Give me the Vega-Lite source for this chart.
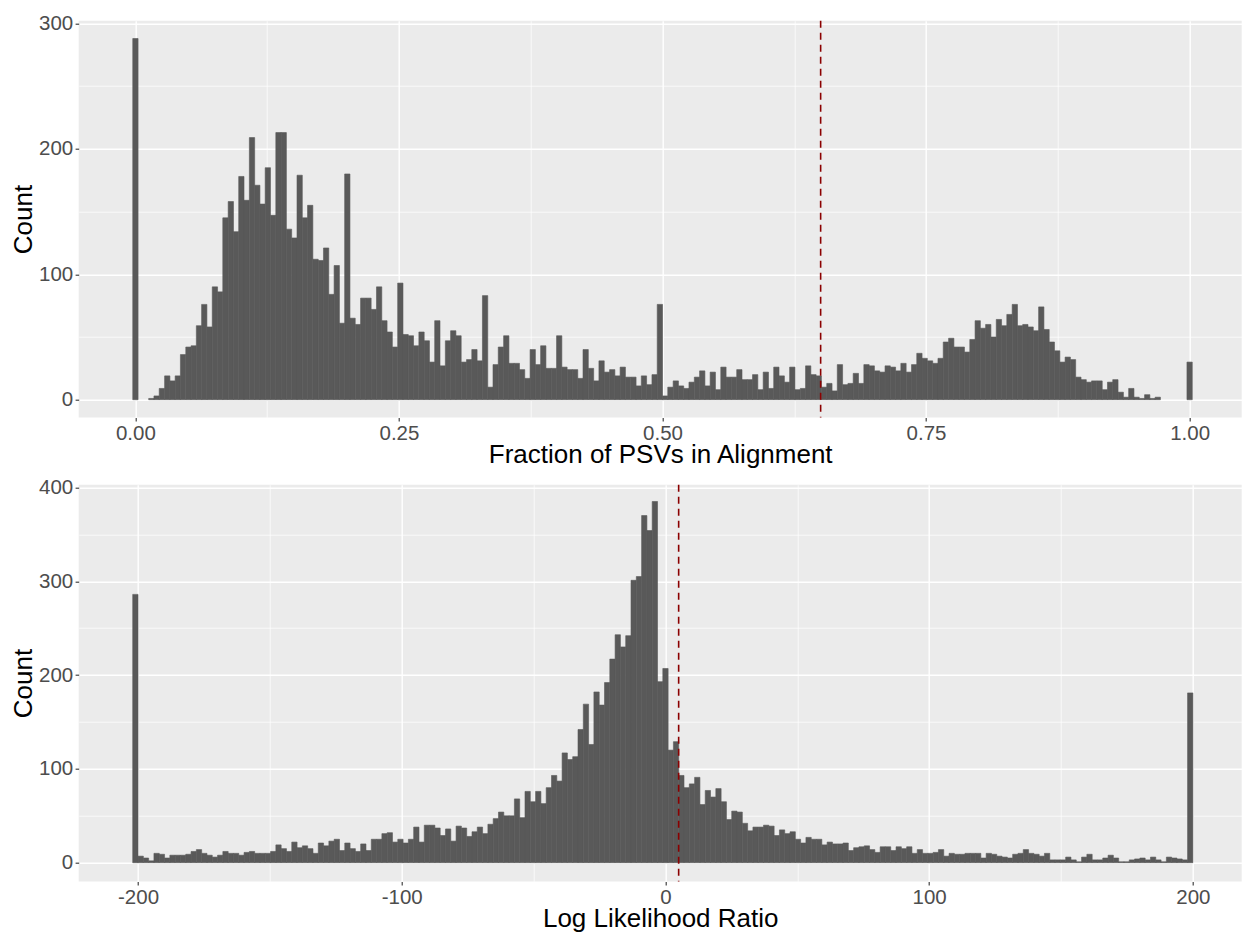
{
  "$schema": "https://vega.github.io/schema/vega-lite/v6.json",
  "background": "white",
  "padding": {"left": 9.7, "top": 12.7, "right": 0, "bottom": 0},
  "spacing": 67,
  "bounds": "flush",
  "config": {
    "font": "Liberation Sans",
    "view": {"fill": "#EBEBEB", "stroke": null},
    "axis": {
      "domain": false,
      "grid": true,
      "gridColor": "#FFFFFF",
      "tickColor": "#333333",
      "tickSize": 3.6,
      "tickWidth": 1.1,
      "labelColor": "#4D4D4D",
      "labelFont": "Liberation Sans",
      "labelFontSize": 20.5,
      "labelPadding": 2.4,
      "labelFlush": false,
      "labelOverlap": false,
      "titleFont": "Liberation Sans",
      "titleFontSize": 26,
      "titleFontWeight": "normal",
      "titleColor": "#000000"
    },
    "axisX": {"titlePadding": -2.5},
    "axisY": {"titlePadding": 2}
  },
  "datasets": {
    "top": [
      {"x":0,"n":288},{"x":0.0151,"n":1},{"x":0.0201,"n":3},{"x":0.0251,"n":9},{"x":0.0302,"n":19},{"x":0.0352,"n":15},{"x":0.0402,"n":19},{"x":0.0452,"n":36},{"x":0.0503,"n":42},{"x":0.0553,"n":43},
      {"x":0.0603,"n":59},{"x":0.0653,"n":76},{"x":0.0704,"n":58},{"x":0.0754,"n":90},{"x":0.0804,"n":86},{"x":0.0854,"n":145},{"x":0.0905,"n":158},{"x":0.0955,"n":134},{"x":0.1005,"n":178},{"x":0.1055,"n":159},
      {"x":0.1106,"n":209},{"x":0.1156,"n":171},{"x":0.1206,"n":156},{"x":0.1256,"n":185},{"x":0.1307,"n":147},{"x":0.1357,"n":213},{"x":0.1407,"n":213},{"x":0.1457,"n":136},{"x":0.1508,"n":129},{"x":0.1558,"n":179},
      {"x":0.1608,"n":145},{"x":0.1658,"n":155},{"x":0.1709,"n":112},{"x":0.1759,"n":111},{"x":0.1809,"n":121},{"x":0.1859,"n":84},{"x":0.191,"n":107},{"x":0.196,"n":61},{"x":0.201,"n":180},{"x":0.206,"n":65},
      {"x":0.2111,"n":60},{"x":0.2161,"n":81},{"x":0.2211,"n":81},{"x":0.2261,"n":72},{"x":0.2312,"n":90},{"x":0.2362,"n":63},{"x":0.2412,"n":54},{"x":0.2462,"n":42},{"x":0.2513,"n":93},{"x":0.2563,"n":52},
      {"x":0.2613,"n":51},{"x":0.2663,"n":43},{"x":0.2714,"n":54},{"x":0.2764,"n":47},{"x":0.2814,"n":30},{"x":0.2864,"n":63},{"x":0.2915,"n":27},{"x":0.2965,"n":47},{"x":0.3015,"n":55},{"x":0.3065,"n":51},
      {"x":0.3116,"n":30},{"x":0.3166,"n":32},{"x":0.3216,"n":40},{"x":0.3266,"n":31},{"x":0.3317,"n":83},{"x":0.3367,"n":10},{"x":0.3417,"n":28},{"x":0.3467,"n":42},{"x":0.3518,"n":51},{"x":0.3568,"n":29},
      {"x":0.3618,"n":29},{"x":0.3668,"n":24},{"x":0.3719,"n":17},{"x":0.3769,"n":40},{"x":0.3819,"n":28},{"x":0.3869,"n":43},{"x":0.392,"n":25},{"x":0.397,"n":25},{"x":0.402,"n":51},{"x":0.407,"n":26},
      {"x":0.4121,"n":24},{"x":0.4171,"n":24},{"x":0.4221,"n":17},{"x":0.4271,"n":40},{"x":0.4322,"n":25},{"x":0.4372,"n":15},{"x":0.4422,"n":31},{"x":0.4472,"n":22},{"x":0.4523,"n":24},{"x":0.4573,"n":19},
      {"x":0.4623,"n":26},{"x":0.4673,"n":18},{"x":0.4724,"n":18},{"x":0.4774,"n":11},{"x":0.4824,"n":19},{"x":0.4874,"n":12},{"x":0.4925,"n":20},{"x":0.4975,"n":76},{"x":0.5025,"n":3},{"x":0.5075,"n":10},
      {"x":0.5126,"n":15},{"x":0.5176,"n":11},{"x":0.5226,"n":9},{"x":0.5276,"n":14},{"x":0.5327,"n":18},{"x":0.5377,"n":23},{"x":0.5427,"n":11},{"x":0.5477,"n":22},{"x":0.5528,"n":8},{"x":0.5578,"n":26},
      {"x":0.5628,"n":18},{"x":0.5678,"n":18},{"x":0.5729,"n":24},{"x":0.5779,"n":16},{"x":0.5829,"n":16},{"x":0.5879,"n":20},{"x":0.593,"n":8},{"x":0.598,"n":22},{"x":0.603,"n":9},{"x":0.608,"n":26},
      {"x":0.6131,"n":19},{"x":0.6181,"n":14},{"x":0.6231,"n":26},{"x":0.6281,"n":8},{"x":0.6332,"n":9},{"x":0.6382,"n":27},{"x":0.6432,"n":20},{"x":0.6482,"n":19},{"x":0.6533,"n":10},{"x":0.6583,"n":13},
      {"x":0.6633,"n":7},{"x":0.6683,"n":28},{"x":0.6734,"n":12},{"x":0.6784,"n":13},{"x":0.6834,"n":21},{"x":0.6884,"n":13},{"x":0.6935,"n":28},{"x":0.6985,"n":27},{"x":0.7035,"n":23},{"x":0.7085,"n":22},
      {"x":0.7136,"n":27},{"x":0.7186,"n":26},{"x":0.7236,"n":23},{"x":0.7286,"n":29},{"x":0.7337,"n":22},{"x":0.7387,"n":28},{"x":0.7437,"n":37},{"x":0.7487,"n":33},{"x":0.7538,"n":31},{"x":0.7588,"n":29},
      {"x":0.7638,"n":33},{"x":0.7688,"n":46},{"x":0.7739,"n":49},{"x":0.7789,"n":42},{"x":0.7839,"n":42},{"x":0.7889,"n":38},{"x":0.794,"n":48},{"x":0.799,"n":63},{"x":0.804,"n":57},{"x":0.809,"n":60},
      {"x":0.8141,"n":50},{"x":0.8191,"n":64},{"x":0.8241,"n":59},{"x":0.8291,"n":68},{"x":0.8342,"n":76},{"x":0.8392,"n":59},{"x":0.8442,"n":60},{"x":0.8492,"n":58},{"x":0.8543,"n":55},{"x":0.8593,"n":74},
      {"x":0.8643,"n":56},{"x":0.8693,"n":46},{"x":0.8744,"n":39},{"x":0.8794,"n":30},{"x":0.8844,"n":34},{"x":0.8894,"n":32},{"x":0.8945,"n":18},{"x":0.8995,"n":16},{"x":0.9045,"n":14},{"x":0.9095,"n":15},
      {"x":0.9146,"n":15},{"x":0.9196,"n":8},{"x":0.9246,"n":14},{"x":0.9296,"n":16},{"x":0.9347,"n":6},{"x":0.9397,"n":2},{"x":0.9447,"n":9},{"x":0.9497,"n":2},{"x":0.9548,"n":1},{"x":0.9598,"n":4},
      {"x":0.9648,"n":1},{"x":0.9698,"n":2},{"x":1,"n":30}
    ],
    "bottom": [
      {"x":-201.01,"n":286},{"x":-198.99,"n":7},{"x":-196.98,"n":5},{"x":-194.97,"n":2},{"x":-192.96,"n":10},{"x":-190.95,"n":9},{"x":-188.94,"n":5},{"x":-186.93,"n":8},{"x":-184.92,"n":8},{"x":-182.91,"n":8},
      {"x":-180.9,"n":9},{"x":-178.89,"n":12},{"x":-176.88,"n":14},{"x":-174.87,"n":10},{"x":-172.86,"n":8},{"x":-170.85,"n":6},{"x":-168.84,"n":8},{"x":-166.83,"n":12},{"x":-164.82,"n":10},{"x":-162.81,"n":10},
      {"x":-160.8,"n":8},{"x":-158.79,"n":11},{"x":-156.78,"n":12},{"x":-154.77,"n":10},{"x":-152.76,"n":10},{"x":-150.75,"n":10},{"x":-148.74,"n":12},{"x":-146.73,"n":19},{"x":-144.72,"n":15},{"x":-142.71,"n":12},
      {"x":-140.7,"n":22},{"x":-138.69,"n":16},{"x":-136.68,"n":18},{"x":-134.67,"n":15},{"x":-132.66,"n":10},{"x":-130.65,"n":21},{"x":-128.64,"n":18},{"x":-126.63,"n":23},{"x":-124.62,"n":25},{"x":-122.61,"n":13},
      {"x":-120.6,"n":21},{"x":-118.59,"n":15},{"x":-116.58,"n":12},{"x":-114.57,"n":20},{"x":-112.56,"n":13},{"x":-110.55,"n":25},{"x":-108.54,"n":25},{"x":-106.53,"n":31},{"x":-104.52,"n":32},{"x":-102.51,"n":22},
      {"x":-100.5,"n":25},{"x":-98.49,"n":21},{"x":-96.48,"n":25},{"x":-94.47,"n":38},{"x":-92.46,"n":22},{"x":-90.45,"n":40},{"x":-88.44,"n":40},{"x":-86.43,"n":37},{"x":-84.42,"n":29},{"x":-82.41,"n":36},
      {"x":-80.4,"n":23},{"x":-78.39,"n":39},{"x":-76.38,"n":37},{"x":-74.37,"n":28},{"x":-72.36,"n":33},{"x":-70.35,"n":38},{"x":-68.34,"n":31},{"x":-66.33,"n":41},{"x":-64.32,"n":47},{"x":-62.31,"n":54},
      {"x":-60.3,"n":50},{"x":-58.29,"n":50},{"x":-56.28,"n":68},{"x":-54.27,"n":48},{"x":-52.26,"n":76},{"x":-50.25,"n":65},{"x":-48.24,"n":76},{"x":-46.23,"n":63},{"x":-44.22,"n":80},{"x":-42.21,"n":93},
      {"x":-40.2,"n":87},{"x":-38.19,"n":117},{"x":-36.18,"n":110},{"x":-34.17,"n":113},{"x":-32.16,"n":142},{"x":-30.15,"n":169},{"x":-28.14,"n":126},{"x":-26.13,"n":182},{"x":-24.12,"n":168},{"x":-22.11,"n":192},
      {"x":-20.1,"n":217},{"x":-18.09,"n":243},{"x":-16.08,"n":230},{"x":-14.07,"n":242},{"x":-12.06,"n":301},{"x":-10.05,"n":305},{"x":-8.04,"n":370},{"x":-6.03,"n":354},{"x":-4.02,"n":385},{"x":-2.01,"n":193},
      {"x":0,"n":207},{"x":2.01,"n":120},{"x":4.02,"n":129},{"x":6.03,"n":93},{"x":8.04,"n":80},{"x":10.05,"n":84},{"x":12.06,"n":91},{"x":14.07,"n":62},{"x":16.08,"n":77},{"x":18.09,"n":70},
      {"x":20.1,"n":79},{"x":22.11,"n":65},{"x":24.12,"n":46},{"x":26.13,"n":55},{"x":28.14,"n":54},{"x":30.15,"n":42},{"x":32.16,"n":34},{"x":34.17,"n":38},{"x":36.18,"n":38},{"x":38.19,"n":40},
      {"x":40.2,"n":39},{"x":42.21,"n":29},{"x":44.22,"n":35},{"x":46.23,"n":31},{"x":48.24,"n":33},{"x":50.25,"n":25},{"x":52.26,"n":21},{"x":54.27,"n":27},{"x":56.28,"n":25},{"x":58.29,"n":25},
      {"x":60.3,"n":19},{"x":62.31,"n":22},{"x":64.32,"n":20},{"x":66.33,"n":20},{"x":68.34,"n":21},{"x":70.35,"n":13},{"x":72.36,"n":16},{"x":74.37,"n":17},{"x":76.38,"n":18},{"x":78.39,"n":14},
      {"x":80.4,"n":11},{"x":82.41,"n":17},{"x":84.42,"n":17},{"x":86.43,"n":13},{"x":88.44,"n":17},{"x":90.45,"n":15},{"x":92.46,"n":17},{"x":94.47,"n":10},{"x":96.48,"n":14},{"x":98.49,"n":10},
      {"x":100.5,"n":10},{"x":102.51,"n":11},{"x":104.52,"n":14},{"x":106.53,"n":7},{"x":108.54,"n":10},{"x":110.55,"n":9},{"x":112.56,"n":9},{"x":114.57,"n":10},{"x":116.58,"n":10},{"x":118.59,"n":10},
      {"x":120.6,"n":5},{"x":122.61,"n":10},{"x":124.62,"n":9},{"x":126.63,"n":7},{"x":128.64,"n":6},{"x":130.65,"n":5},{"x":132.66,"n":9},{"x":134.67,"n":10},{"x":136.68,"n":14},{"x":138.69,"n":10},
      {"x":140.7,"n":9},{"x":142.71,"n":7},{"x":144.72,"n":10},{"x":146.73,"n":3},{"x":148.74,"n":3},{"x":150.75,"n":3},{"x":152.76,"n":6},{"x":154.77,"n":3},{"x":156.78,"n":1},{"x":158.79,"n":6},
      {"x":160.8,"n":9},{"x":162.81,"n":3},{"x":164.82,"n":3},{"x":166.83,"n":5},{"x":168.84,"n":8},{"x":170.85,"n":5},{"x":172.86,"n":1},{"x":174.87,"n":1},{"x":176.88,"n":3},{"x":178.89,"n":4},
      {"x":180.9,"n":5},{"x":182.91,"n":3},{"x":184.92,"n":6},{"x":186.93,"n":3},{"x":188.94,"n":1},{"x":190.95,"n":6},{"x":192.96,"n":5},{"x":194.97,"n":4},{"x":196.98,"n":3},{"x":198.99,"n":181}
    ]
  },
  "vconcat": [
    {
      "width": 1163,
      "height": 396.7,
      "layer": [
        {
          "data": {"name": "top"},
          "transform": [
            {"calculate": "datum.x - 0.5/199", "as": "lo"},
            {"calculate": "datum.x + 0.5/199", "as": "hi"}
          ],
          "mark": {"type": "bar", "color": "#595959", "stroke": "#595959", "strokeWidth": 0.6},
          "encoding": {
            "x": {
              "field": "lo", "type": "quantitative",
              "scale": {"domain": [-0.0538, 1.0494], "nice": false, "zero": false},
              "axis": {
                "title": "Fraction of PSVs in Alignment",
                "values": [0, 0.125, 0.25, 0.375, 0.5, 0.625, 0.75, 0.875, 1],
                "labelExpr": "round(datum.value*1000) % 250 === 0 ? format(datum.value, '.2f') : ''",
                "gridWidth": {"condition": {"test": "round(datum.value*1000) % 250 === 0", "value": 1.4}, "value": 0.7},
                "tickOpacity": {"condition": {"test": "round(datum.value*1000) % 250 === 0", "value": 1}, "value": 0}
              }
            },
            "x2": {"field": "hi"},
            "y": {
              "field": "n", "type": "quantitative",
              "scale": {"domain": [-14.1, 302.2], "nice": false, "zero": false},
              "axis": {
                "title": "Count",
                "values": [0, 50, 100, 150, 200, 250, 300],
                "labelExpr": "datum.value % 100 === 0 ? '' + datum.value : ''",
                "gridWidth": {"condition": {"test": "datum.value % 100 === 0", "value": 1.4}, "value": 0.7},
                "tickOpacity": {"condition": {"test": "datum.value % 100 === 0", "value": 1}, "value": 0}
              }
            },
            "y2": {"datum": 0}
          }
        },
        {
          "data": {"values": [{"thr": 0.65}]},
          "mark": {"type": "rule", "color": "#8B0000", "strokeDash": [7, 5], "strokeWidth": 1.6},
          "encoding": {
            "x": {"field": "thr", "type": "quantitative", "scale": {"domain": [-0.0538, 1.0494], "nice": false, "zero": false}}
          }
        }
      ]
    },
    {
      "width": 1163,
      "height": 396.7,
      "layer": [
        {
          "data": {"name": "bottom"},
          "transform": [
            {"calculate": "datum.x - 200/199", "as": "lo"},
            {"calculate": "datum.x + 200/199", "as": "hi"}
          ],
          "mark": {"type": "bar", "color": "#595959", "stroke": "#595959", "strokeWidth": 0.6},
          "encoding": {
            "x": {
              "field": "lo", "type": "quantitative",
              "scale": {"domain": [-222.5, 218.5], "nice": false, "zero": false},
              "axis": {
                "title": "Log Likelihood Ratio",
                "values": [-200, -150, -100, -50, 0, 50, 100, 150, 200],
                "labelExpr": "datum.value % 100 === 0 ? '' + datum.value : ''",
                "gridWidth": {"condition": {"test": "datum.value % 100 === 0", "value": 1.4}, "value": 0.7},
                "tickOpacity": {"condition": {"test": "datum.value % 100 === 0", "value": 1}, "value": 0}
              }
            },
            "x2": {"field": "hi"},
            "y": {
              "field": "n", "type": "quantitative",
              "scale": {"domain": [-19.9, 402.9], "nice": false, "zero": false},
              "axis": {
                "title": "Count",
                "values": [0, 50, 100, 150, 200, 250, 300, 350, 400],
                "labelExpr": "datum.value % 100 === 0 ? '' + datum.value : ''",
                "gridWidth": {"condition": {"test": "datum.value % 100 === 0", "value": 1.4}, "value": 0.7},
                "tickOpacity": {"condition": {"test": "datum.value % 100 === 0", "value": 1}, "value": 0}
              }
            },
            "y2": {"datum": 0}
          }
        },
        {
          "data": {"values": [{"thr": 5}]},
          "mark": {"type": "rule", "color": "#8B0000", "strokeDash": [7, 5], "strokeWidth": 1.6},
          "encoding": {
            "x": {"field": "thr", "type": "quantitative", "scale": {"domain": [-222.5, 218.5], "nice": false, "zero": false}}
          }
        }
      ]
    }
  ]
}
